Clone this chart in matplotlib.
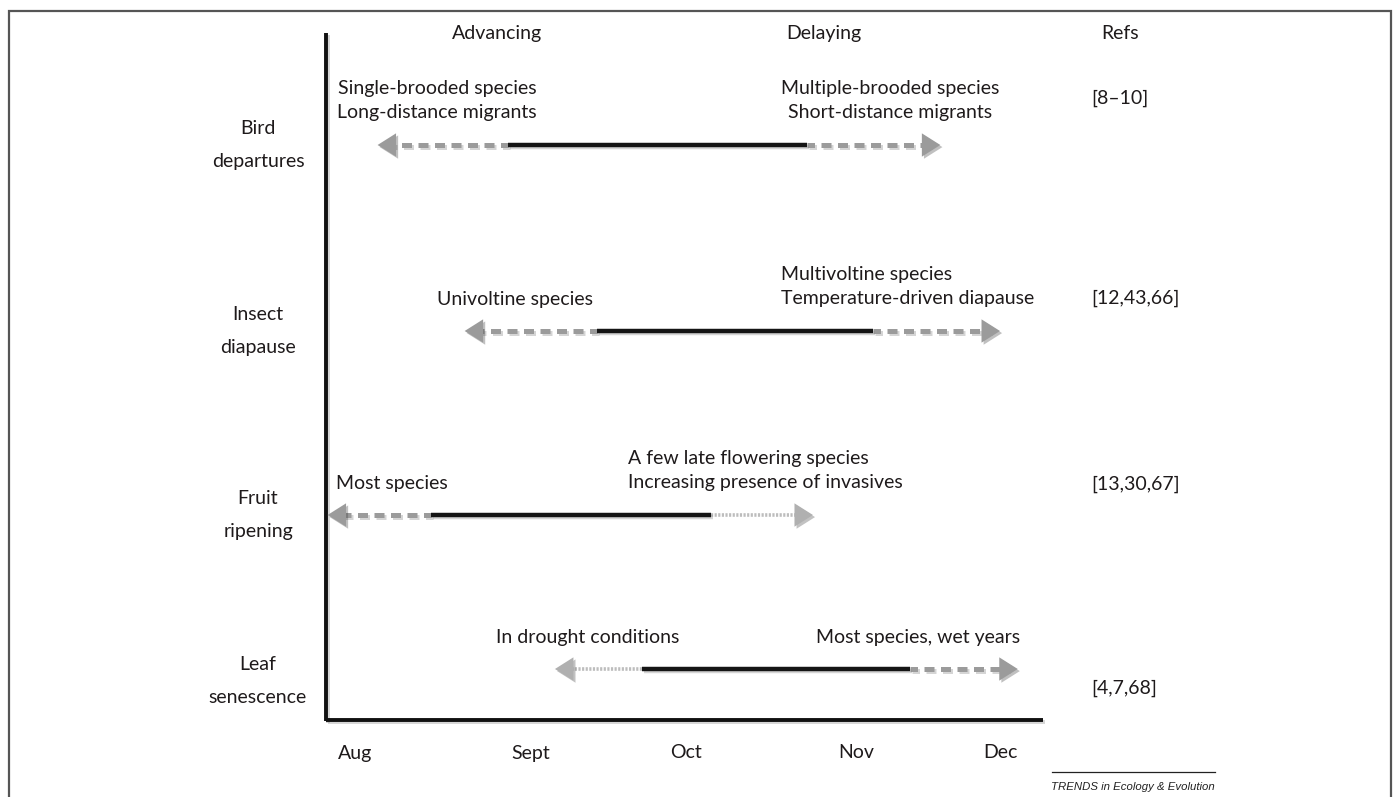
import numpy as np
import matplotlib.pyplot as plt
import matplotlib.patheffects as pe
from matplotlib.patches import Rectangle

# ---- data (x in months after 1 Aug: Aug=0 ... Dec=4) ----
months = ['Aug', 'Sept', 'Oct', 'Nov', 'Dec']
rows = ['Bird\ndepartures', 'Insect\ndiapause', 'Fruit\nripening', 'Leaf\nsenescence']
refs = ['[8\u201310]', '[12,43,66]', '[13,30,67]', '[4,7,68]']
# extent of the grey "advancing" arrow, black core, grey "delaying" arrow
adv_tip = [0.14, 0.68, -0.17, 1.24]
core_start = [0.95, 1.50, 0.47, 1.78]
core_end = [2.80, 3.21, 2.21, 3.44]
del_tip = [3.63, 4.00, 2.84, 4.11]
adv_style = ['dash', 'dash', 'dash', 'dot']
del_style = ['dash', 'dash', 'dot', 'dash']
adv_text = ['Single-brooded species\nLong-distance migrants', 'Univoltine species',
            'Most species', 'In drought conditions']
del_text = ['Multiple-brooded species\nShort-distance migrants',
            'Multivoltine species\nTemperature-driven diapause',
            'A few late flowering species\nIncreasing presence of invasives',
            'Most species, wet years']

# ---- layout ----
W, H = 1397, 797
px0, pxm = 355, 161.25          # pixel of Aug, pixels per month
row_y = [145, 331, 515, 669]
ref_y = [98, 298, 484, 688]
month_lab_x = [0, 1.09, 2.05, 3.11, 4.0]
adv_pos = [(0.51, 'center'), (0.99, 'center'), (-0.12, 'left'), (1.44, 'center')]
del_pos = [(3.32, 'center'), (2.64, 'left'), (1.69, 'left'), (3.49, 'center')]
txt_col = '#1e1a1b'
grey = '#9b9b9b'
light = '#bdbdbd'

plt.rcParams['font.family'] = ['Lato', 'DejaVu Sans']
fig = plt.figure(figsize=(W / 100, H / 100), dpi=100)
ax = fig.add_axes([0, 0, 1, 1])
ax.set_xlim(-px0 / pxm, (W - px0) / pxm)
ax.set_ylim(H, 0)
ax.axis('off')

def m(px):
    return (px - px0) / pxm

shadow = [pe.SimpleLineShadow(offset=(1.5, -1.5), shadow_color='#888', alpha=0.35), pe.Normal()]

# axes lines
ax.plot([m(326), m(326)], [33, 721], color='#111', lw=2.8, solid_capstyle='butt', path_effects=shadow)
ax.plot([m(326), m(1043)], [720, 720], color='#111', lw=2.8, solid_capstyle='butt', path_effects=shadow)

def arrow(x0, x1, y, style):
    d = np.sign(x1 - x0)
    head = 17 / pxm
    if style == 'dash':
        ax.plot([x0, x1 - d * head * 0.6], [y, y], color=grey, lw=3.6,
                linestyle=(0.5, (2, 1.3)), dash_capstyle='butt', path_effects=shadow)
    else:
        ax.plot([x0, x1 - d * head * 0.6], [y, y], color=light, lw=2.6,
                linestyle=(0, (0.6, 0.4)), dash_capstyle='butt')
    ax.annotate('', xy=(x1, y), xytext=(x1 - d * 0.02, y),
                arrowprops=dict(arrowstyle='-|>,head_length=0.95,head_width=0.6',
                                color=grey if style == 'dash' else '#b0b0b0', lw=0,
                                mutation_scale=14, shrinkA=0, shrinkB=0,
                                path_effects=[pe.SimplePatchShadow(offset=(1.5, -1.5), alpha=0.3), pe.Normal()]))

for i in range(len(rows)):
    y = row_y[i]
    arrow(core_start[i], adv_tip[i], y, adv_style[i])
    arrow(core_end[i], del_tip[i], y, del_style[i])
    ax.plot([core_start[i], core_end[i]], [y, y], color='#151515', lw=3.2,
            solid_capstyle='butt', path_effects=shadow)

    ax.text(m(258), y + (12 if i == 3 else 0), rows[i], ha='center', va='center',
            fontsize=14, color=txt_col, linespacing=2.1)
    ax.text(m(1091), ref_y[i], refs[i], ha='left', va='center',
            fontsize=14, color=txt_col)
    for (tx, al), s in ((adv_pos[i], adv_text[i]), (del_pos[i], del_text[i])):
        nl = s.count('\n')
        ax.text(tx, y - 32 - 12.5 * nl, s, ha=al, va='center', multialignment=al,
                fontsize=14, color=txt_col, linespacing=1.55)

# header
ax.text(m(497), 33, 'Advancing', ha='center', va='center', fontsize=14, color=txt_col)
ax.text(m(824), 33, 'Delaying', ha='center', va='center', fontsize=14, color=txt_col)
ax.text(m(1120), 33, 'Refs', ha='center', va='center', fontsize=14, color=txt_col)

# month labels
for k, lab in enumerate(months):
    ax.text(month_lab_x[k], 753, lab, ha='center', va='center', fontsize=14, color=txt_col)

# footer
ax.plot([m(1052), m(1215)], [772, 772], color='#222', lw=0.9)
ax.text(m(1215), 787, 'TRENDS in Ecology & Evolution', ha='right', va='center',
        fontsize=8.2, style='italic', family='Liberation Sans', color='#222')

fig.add_artist(Rectangle((9 / W, -0.01), (1391 - 9) / W, 1 - 11 / H + 0.01,
                         transform=fig.transFigure, fill=False, ec='#555', lw=1.6))

fig.savefig('out.png', dpi=100)
